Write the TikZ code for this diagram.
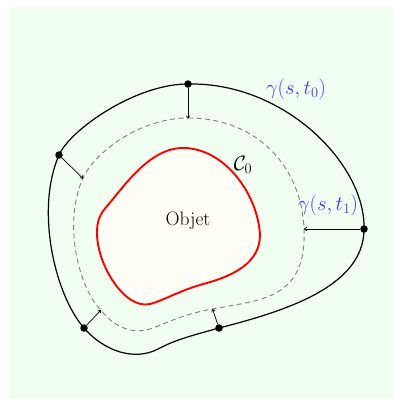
\documentclass[tikz,border=0pt]{standalone}
\usepackage{fontspec}
\usetikzlibrary{arrows.meta}
\definecolor{bggreen}{RGB}{240,253,240}
\definecolor{objfill}{RGB}{254,254,246}
\definecolor{lblblue}{RGB}{60,60,255}
\tikzset{
  outer/.style={black, line width=1.2pt},
  inner/.style={gray, dash pattern=on 5pt off 3.5pt, line width=0.9pt},
  obj/.style={red, line width=1.9pt, fill=objfill},
  dot/.style={circle, fill=black, inner sep=0pt, minimum size=7.5pt},
  flow/.style={-{To[length=3pt,width=4pt]}, line width=0.7pt},
  lbl/.style={font=\fontsize{19.5}{23}\selectfont},
}
\begin{document}
\begin{tikzpicture}[x=1pt,y=-1pt]
\useasboundingbox (0,0) rectangle (393,399);
\fill[bggreen] (9,7) rectangle (393,399);
% object
\draw[obj] (183,148) .. controls (225,148) and (258,195) .. (260,235)
  .. controls (260,262) and (235,275) .. (207,283)
  .. controls (180,290) and (165,300) .. (150,304)
  .. controls (125,310) and (97,265) .. (97,233)
  .. controls (97,220) and (100,214) .. (108,205)
  .. controls (125,185) and (150,148) .. cycle;
% dashed curve
\draw[inner] (188,118) .. controls (260,118) and (302,170) .. (304,229)
  .. controls (307,300) and (260,300) .. (212,309)
  .. controls (180,315) and (165,324) .. (150,329)
  .. controls (130,335) and (112,325) .. (101,310)
  .. controls (80,290) and (62,225) .. (83,178)
  .. controls (95,152) and (140,118) .. cycle;
% outer curve
\draw[outer] (188,84) .. controls (285,82) and (366,165) .. (364,229)
  .. controls (364,285) and (290,310) .. (219,328)
  .. controls (190,336) and (175,340) .. (158,349)
  .. controls (135,361) and (105,352) .. (84,328)
  .. controls (55,295) and (35,210) .. (59,155)
  .. controls (70,130) and (135,84) .. cycle;
% dots
\node[dot] (p1) at (188,84) {};
\node[dot] (p2) at (59,155) {};
\node[dot] (p3) at (364,229) {};
\node[dot] (p4) at (84,328) {};
\node[dot] (p5) at (219,328) {};
\coordinate (q1) at (188,118.5);
\coordinate (q2) at (83,178.5);
\coordinate (q3) at (304,229);
\coordinate (q4) at (101,310);
\coordinate (q5) at (212.5,309);
\draw[flow] (p1) -- (q1);
\draw[flow] (p2) -- (q2);
\draw[flow] (p3) -- (q3);
\draw[flow] (p4) -- (q4);
\draw[flow] (p5) -- (q5);
% labels
\node[lbl] (objet) at (188,221) {Objet};
\node[lbl] (c0) at (243,165) {$\mathcal{C}_0$};
\node[lbl, text=lblblue] (g0) at (296,89) {$\gamma(s,t_0)$};
\node[lbl, text=lblblue] (g1) at (328,205) {$\gamma(s,t_1)$};
\end{tikzpicture}
\end{document}
